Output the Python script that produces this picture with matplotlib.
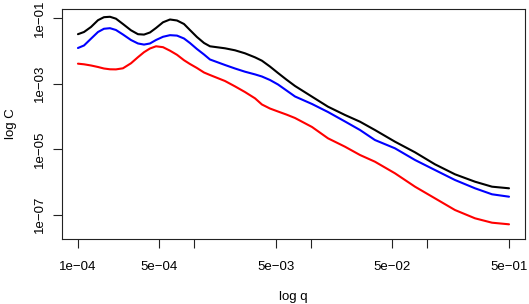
import numpy as np
import matplotlib
matplotlib.use("Agg")
import matplotlib.pyplot as plt

# values, as log10(q) and log10(C)
log_q = [-4.000, -3.948, -3.888, -3.828, -3.777, -3.725, -3.674, -3.614,
         -3.545, -3.485, -3.433, -3.382, -3.330, -3.270, -3.210, -3.150,
         -3.090, -3.039, -2.979, -2.918, -2.867, -2.738, -2.652, -2.567,
         -2.480, -2.421, -2.352, -2.283, -2.210, -2.137, -1.991, -1.854,
         -1.708, -1.579, -1.451, -1.279, -1.107, -0.936, -0.764, -0.592,
         -0.446, -0.300]

log_c_black = [-1.494, -1.427, -1.274, -1.067, -0.976, -0.963, -1.021, -1.183,
               -1.375, -1.494, -1.506, -1.442, -1.305, -1.131, -1.046, -1.076,
               -1.183, -1.366, -1.579, -1.762, -1.863, -1.924, -1.985, -2.076,
               -2.200, -2.302, -2.480, -2.677, -2.880, -3.073, -3.399, -3.704,
               -3.957, -4.162, -4.415, -4.771, -5.095, -5.460, -5.765, -5.991,
               -6.143, -6.192]

log_c_blue = [-1.915, -1.838, -1.631, -1.427, -1.329, -1.311, -1.366, -1.503,
              -1.671, -1.777, -1.811, -1.777, -1.671, -1.573, -1.524, -1.537,
              -1.625, -1.762, -1.945, -2.113, -2.265, -2.433, -2.540, -2.637,
              -2.720, -2.784, -2.890, -3.027, -3.210, -3.393, -3.622, -3.866,
              -4.155, -4.415, -4.720, -4.973, -5.329, -5.634, -5.939, -6.192,
              -6.375, -6.448]

log_c_red = [-2.393, -2.412, -2.448, -2.494, -2.540, -2.564, -2.567, -2.534,
             -2.381, -2.195, -2.043, -1.930, -1.863, -1.890, -1.997, -2.122,
             -2.287, -2.402, -2.524, -2.662, -2.738, -2.921, -3.085, -3.256,
             -3.450, -3.637, -3.760, -3.851, -3.945, -4.049, -4.323, -4.668,
             -4.924, -5.177, -5.381, -5.735, -6.143, -6.497, -6.854, -7.107,
             -7.241, -7.290]

x_ticks = [1e-4, 5e-4, 1e-3, 5e-3, 1e-2, 5e-2, 1e-1, 5e-1]
x_labels = ["1e\u221204", "5e\u221204", "", "5e\u221203", "", "5e\u221202", "", "5e\u221201"]
y_ticks = [1e-7, 1e-5, 1e-3, 1e-1]
y_labels = ["1e\u221207", "1e\u221205", "1e\u221203", "1e\u221201"]

plt.rcParams["font.family"] = ["Liberation Sans", "DejaVu Sans"]
plt.rcParams["font.size"] = 9.5

fig = plt.figure(figsize=(5.29, 3.04), dpi=100)
ax = fig.add_axes([0.1172, 0.2138, 0.8752, 0.7566])

q = 10 ** np.array(log_q)
for vals, col in [(log_c_black, "black"), (log_c_blue, "blue"), (log_c_red, "red")]:
    ax.plot(q, 10 ** np.array(vals), color=col, lw=1.5,
            solid_joinstyle="round", solid_capstyle="round")

ax.set_xscale("log")
ax.set_yscale("log")
ax.set_xlim(10 ** -4.137, 10 ** -0.163)
ax.set_ylim(10 ** -7.738, 10 ** -0.726)

ax.set_xticks(x_ticks)
ax.set_xticklabels(x_labels)
ax.set_yticks(y_ticks)
ax.set_yticklabels(y_labels, rotation=90, va="center")
ax.minorticks_off()
ax.tick_params(length=6.5, width=0.8, colors="#222222", labelcolor="black")
ax.tick_params(axis="x", pad=9)
ax.tick_params(axis="y", pad=5)

for s in ax.spines.values():
    s.set_linewidth(0.8)
    s.set_color("#222222")

ax.set_xlabel("log q", labelpad=13)
ax.set_ylabel("log C", labelpad=12)

fig.savefig("out.png", dpi=100)
